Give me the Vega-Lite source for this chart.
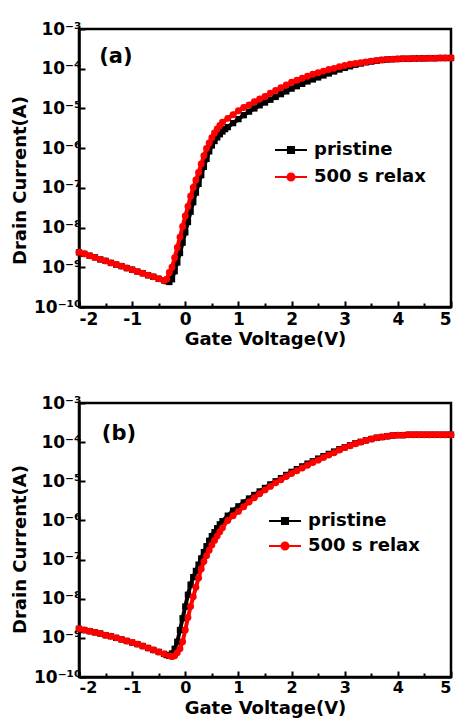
{
  "$schema": "https://vega.github.io/schema/vega-lite/v6.json",
  "background": "white",
  "padding": {"left": 10, "top": 18, "right": 5, "bottom": 5},
  "bounds": "flush",
  "spacing": 96,
  "config": {
    "view": {"stroke": "black", "strokeWidth": 2.5},
    "font": "DejaVu Sans",
    "axis": {
      "domainColor": "black", "domainWidth": 2.5, "grid": false,
      "tickColor": "black", "tickWidth": 2,
      "labelFont": "DejaVu Sans", "labelFontWeight": "bold", "labelFontSize": 17, "labelColor": "black",
      "titleFont": "DejaVu Sans", "titleFontWeight": "bold", "titleFontSize": 18, "titleColor": "black"
    },
    "legend": {
      "orient": "none", "title": null,
      "labelFont": "DejaVu Sans", "labelFontWeight": "bold", "labelFontSize": 18, "labelColor": "black",
      "symbolSize": 256, "labelOffset": 14, "rowPadding": 9, "symbolStrokeWidth": 2
    }
  },
  "datasets": {
    "a_pristine": [
      {"V":-2.0,"I":2.38e-9},{"V":-1.9,"I":2.17e-9},{"V":-1.8,"I":1.95e-9},{"V":-1.7,"I":1.78e-9},{"V":-1.6,"I":1.58e-9},{"V":-1.5,"I":1.45e-9},{"V":-1.4,"I":1.29e-9},{"V":-1.3,"I":1.17e-9},{"V":-1.2,"I":1.07e-9},{"V":-1.1,"I":9.55e-10},{"V":-1.0,"I":8.71e-10},{"V":-0.9,"I":7.76e-10},{"V":-0.8,"I":7.08e-10},{"V":-0.7,"I":6.31e-10},{"V":-0.6,"I":5.75e-10},{"V":-0.5,"I":5.13e-10},{"V":-0.4,"I":4.68e-10},{"V":-0.35,"I":4.47e-10},{"V":-0.3,"I":4.27e-10},{"V":-0.25,"I":5.01e-10},{"V":-0.2,"I":7.94e-10},{"V":-0.15,"I":1.32e-9},{"V":-0.1,"I":2.29e-9},{"V":-0.05,"I":4.17e-9},{"V":0.0,"I":7.59e-9},{"V":0.05,"I":1.38e-8},{"V":0.1,"I":2.51e-8},{"V":0.15,"I":4.37e-8},{"V":0.2,"I":7.59e-8},{"V":0.25,"I":1.26e-7},{"V":0.3,"I":2.09e-7},{"V":0.35,"I":3.39e-7},{"V":0.4,"I":5.37e-7},{"V":0.45,"I":8.32e-7},{"V":0.5,"I":1.17e-6},{"V":0.55,"I":1.51e-6},{"V":0.6,"I":1.86e-6},{"V":0.65,"I":2.24e-6},{"V":0.7,"I":2.63e-6},{"V":0.75,"I":3.02e-6},{"V":0.8,"I":3.39e-6},{"V":0.9,"I":4.27e-6},{"V":1.0,"I":5.37e-6},{"V":1.1,"I":6.76e-6},{"V":1.2,"I":8.32e-6},{"V":1.3,"I":1.0e-5},{"V":1.4,"I":1.2e-5},{"V":1.5,"I":1.41e-5},{"V":1.6,"I":1.66e-5},{"V":1.7,"I":1.95e-5},{"V":1.8,"I":2.29e-5},{"V":1.9,"I":2.69e-5},{"V":2.0,"I":3.16e-5},{"V":2.1,"I":3.63e-5},{"V":2.2,"I":4.17e-5},{"V":2.3,"I":4.79e-5},{"V":2.4,"I":5.37e-5},{"V":2.5,"I":6.03e-5},{"V":2.6,"I":6.76e-5},{"V":2.7,"I":7.59e-5},{"V":2.8,"I":8.51e-5},{"V":2.9,"I":9.55e-5},{"V":3.0,"I":1.05e-4},{"V":3.1,"I":1.15e-4},{"V":3.2,"I":1.26e-4},{"V":3.3,"I":1.35e-4},{"V":3.4,"I":1.45e-4},{"V":3.5,"I":1.51e-4},{"V":3.6,"I":1.58e-4},{"V":3.7,"I":1.66e-4},{"V":3.8,"I":1.7e-4},{"V":3.9,"I":1.74e-4},{"V":4.0,"I":1.76e-4},{"V":4.1,"I":1.78e-4},{"V":4.2,"I":1.78e-4},{"V":4.3,"I":1.8e-4},{"V":4.4,"I":1.82e-4},{"V":4.5,"I":1.82e-4},{"V":4.6,"I":1.84e-4},{"V":4.7,"I":1.84e-4},{"V":4.8,"I":1.86e-4},{"V":4.9,"I":1.86e-4},{"V":5.0,"I":1.86e-4}
    ],
    "a_relax": [
      {"V":-2.0,"I":2.4e-9},{"V":-1.9,"I":2.19e-9},{"V":-1.8,"I":1.95e-9},{"V":-1.7,"I":1.78e-9},{"V":-1.6,"I":1.58e-9},{"V":-1.5,"I":1.45e-9},{"V":-1.4,"I":1.29e-9},{"V":-1.3,"I":1.17e-9},{"V":-1.2,"I":1.07e-9},{"V":-1.1,"I":9.55e-10},{"V":-1.0,"I":8.71e-10},{"V":-0.9,"I":7.76e-10},{"V":-0.8,"I":7.08e-10},{"V":-0.7,"I":6.31e-10},{"V":-0.6,"I":5.75e-10},{"V":-0.5,"I":5.13e-10},{"V":-0.4,"I":4.68e-10},{"V":-0.35,"I":5.01e-10},{"V":-0.3,"I":7.41e-10},{"V":-0.25,"I":1.0e-9},{"V":-0.2,"I":1.74e-9},{"V":-0.15,"I":3.16e-9},{"V":-0.1,"I":5.75e-9},{"V":-0.05,"I":1.07e-8},{"V":0.0,"I":1.95e-8},{"V":0.05,"I":3.39e-8},{"V":0.1,"I":6.17e-8},{"V":0.15,"I":1.02e-7},{"V":0.2,"I":1.58e-7},{"V":0.25,"I":2.45e-7},{"V":0.3,"I":3.98e-7},{"V":0.35,"I":6.46e-7},{"V":0.4,"I":9.77e-7},{"V":0.45,"I":1.35e-6},{"V":0.5,"I":1.82e-6},{"V":0.55,"I":2.4e-6},{"V":0.6,"I":3.02e-6},{"V":0.65,"I":3.72e-6},{"V":0.7,"I":4.47e-6},{"V":0.8,"I":5.62e-6},{"V":0.9,"I":6.92e-6},{"V":1.0,"I":8.71e-6},{"V":1.1,"I":1.05e-5},{"V":1.2,"I":1.23e-5},{"V":1.3,"I":1.48e-5},{"V":1.4,"I":1.74e-5},{"V":1.5,"I":2.0e-5},{"V":1.6,"I":2.4e-5},{"V":1.7,"I":2.82e-5},{"V":1.8,"I":3.31e-5},{"V":1.9,"I":3.89e-5},{"V":2.0,"I":4.57e-5},{"V":2.1,"I":5.13e-5},{"V":2.2,"I":5.75e-5},{"V":2.3,"I":6.46e-5},{"V":2.4,"I":7.24e-5},{"V":2.5,"I":7.94e-5},{"V":2.6,"I":8.71e-5},{"V":2.7,"I":9.55e-5},{"V":2.8,"I":1.02e-4},{"V":2.9,"I":1.12e-4},{"V":3.0,"I":1.2e-4},{"V":3.1,"I":1.29e-4},{"V":3.2,"I":1.35e-4},{"V":3.3,"I":1.41e-4},{"V":3.4,"I":1.48e-4},{"V":3.5,"I":1.55e-4},{"V":3.6,"I":1.62e-4},{"V":3.7,"I":1.66e-4},{"V":3.8,"I":1.7e-4},{"V":3.9,"I":1.74e-4},{"V":4.0,"I":1.76e-4},{"V":4.1,"I":1.78e-4},{"V":4.2,"I":1.78e-4},{"V":4.3,"I":1.8e-4},{"V":4.4,"I":1.82e-4},{"V":4.5,"I":1.82e-4},{"V":4.6,"I":1.84e-4},{"V":4.7,"I":1.84e-4},{"V":4.8,"I":1.86e-4},{"V":4.9,"I":1.86e-4},{"V":5.0,"I":1.86e-4}
    ],
    "b_pristine": [
      {"V":-2.0,"I":1.7e-9},{"V":-1.9,"I":1.58e-9},{"V":-1.8,"I":1.48e-9},{"V":-1.7,"I":1.38e-9},{"V":-1.6,"I":1.29e-9},{"V":-1.5,"I":1.17e-9},{"V":-1.4,"I":1.1e-9},{"V":-1.3,"I":1.0e-9},{"V":-1.2,"I":9.12e-10},{"V":-1.1,"I":8.32e-10},{"V":-1.0,"I":7.59e-10},{"V":-0.9,"I":6.92e-10},{"V":-0.8,"I":6.17e-10},{"V":-0.7,"I":5.5e-10},{"V":-0.6,"I":4.9e-10},{"V":-0.5,"I":4.37e-10},{"V":-0.4,"I":3.89e-10},{"V":-0.35,"I":3.63e-10},{"V":-0.3,"I":3.47e-10},{"V":-0.25,"I":3.98e-10},{"V":-0.2,"I":5.25e-10},{"V":-0.15,"I":7.94e-10},{"V":-0.1,"I":1.58e-9},{"V":-0.05,"I":3.16e-9},{"V":0.0,"I":6.31e-9},{"V":0.05,"I":1.26e-8},{"V":0.1,"I":2.29e-8},{"V":0.15,"I":3.55e-8},{"V":0.2,"I":5.13e-8},{"V":0.25,"I":7.41e-8},{"V":0.3,"I":1.07e-7},{"V":0.35,"I":1.55e-7},{"V":0.4,"I":2.19e-7},{"V":0.45,"I":3.02e-7},{"V":0.5,"I":3.98e-7},{"V":0.55,"I":5.01e-7},{"V":0.6,"I":6.31e-7},{"V":0.65,"I":7.94e-7},{"V":0.7,"I":9.55e-7},{"V":0.8,"I":1.32e-6},{"V":0.9,"I":1.78e-6},{"V":1.0,"I":2.29e-6},{"V":1.1,"I":2.88e-6},{"V":1.2,"I":3.63e-6},{"V":1.3,"I":4.47e-6},{"V":1.4,"I":5.5e-6},{"V":1.5,"I":6.76e-6},{"V":1.6,"I":8.32e-6},{"V":1.7,"I":1.0e-5},{"V":1.8,"I":1.2e-5},{"V":1.9,"I":1.45e-5},{"V":2.0,"I":1.74e-5},{"V":2.1,"I":2.04e-5},{"V":2.2,"I":2.4e-5},{"V":2.3,"I":2.82e-5},{"V":2.4,"I":3.24e-5},{"V":2.5,"I":3.8e-5},{"V":2.6,"I":4.37e-5},{"V":2.7,"I":5.01e-5},{"V":2.8,"I":5.75e-5},{"V":2.9,"I":6.61e-5},{"V":3.0,"I":7.41e-5},{"V":3.1,"I":8.32e-5},{"V":3.2,"I":9.33e-5},{"V":3.3,"I":1.02e-4},{"V":3.4,"I":1.11e-4},{"V":3.5,"I":1.2e-4},{"V":3.6,"I":1.29e-4},{"V":3.7,"I":1.35e-4},{"V":3.8,"I":1.41e-4},{"V":3.9,"I":1.48e-4},{"V":4.0,"I":1.51e-4},{"V":4.1,"I":1.51e-4},{"V":4.2,"I":1.55e-4},{"V":4.3,"I":1.55e-4},{"V":4.4,"I":1.55e-4},{"V":4.5,"I":1.55e-4},{"V":4.6,"I":1.55e-4},{"V":4.7,"I":1.55e-4},{"V":4.8,"I":1.55e-4},{"V":4.9,"I":1.55e-4},{"V":5.0,"I":1.55e-4}
    ],
    "b_relax": [
      {"V":-2.0,"I":1.7e-9},{"V":-1.9,"I":1.58e-9},{"V":-1.8,"I":1.48e-9},{"V":-1.7,"I":1.38e-9},{"V":-1.6,"I":1.29e-9},{"V":-1.5,"I":1.17e-9},{"V":-1.4,"I":1.1e-9},{"V":-1.3,"I":1.0e-9},{"V":-1.2,"I":9.12e-10},{"V":-1.1,"I":8.32e-10},{"V":-1.0,"I":7.59e-10},{"V":-0.9,"I":6.92e-10},{"V":-0.8,"I":6.17e-10},{"V":-0.7,"I":5.5e-10},{"V":-0.6,"I":4.9e-10},{"V":-0.5,"I":4.37e-10},{"V":-0.4,"I":3.89e-10},{"V":-0.3,"I":3.47e-10},{"V":-0.25,"I":3.31e-10},{"V":-0.2,"I":3.47e-10},{"V":-0.15,"I":4.17e-10},{"V":-0.1,"I":5.25e-10},{"V":-0.05,"I":7.94e-10},{"V":0.0,"I":1.58e-9},{"V":0.05,"I":3.31e-9},{"V":0.1,"I":6.31e-9},{"V":0.15,"I":1.12e-8},{"V":0.2,"I":1.95e-8},{"V":0.25,"I":3.39e-8},{"V":0.3,"I":5.75e-8},{"V":0.35,"I":8.91e-8},{"V":0.4,"I":1.26e-7},{"V":0.45,"I":1.74e-7},{"V":0.5,"I":2.34e-7},{"V":0.55,"I":3.09e-7},{"V":0.6,"I":3.98e-7},{"V":0.65,"I":5.13e-7},{"V":0.7,"I":6.46e-7},{"V":0.8,"I":1.0e-6},{"V":0.9,"I":1.32e-6},{"V":1.0,"I":1.7e-6},{"V":1.1,"I":2.24e-6},{"V":1.2,"I":2.95e-6},{"V":1.3,"I":3.8e-6},{"V":1.4,"I":4.79e-6},{"V":1.5,"I":6.03e-6},{"V":1.6,"I":7.41e-6},{"V":1.7,"I":9.12e-6},{"V":1.8,"I":1.1e-5},{"V":1.9,"I":1.32e-5},{"V":2.0,"I":1.58e-5},{"V":2.1,"I":1.86e-5},{"V":2.2,"I":2.19e-5},{"V":2.3,"I":2.57e-5},{"V":2.4,"I":3.02e-5},{"V":2.5,"I":3.47e-5},{"V":2.6,"I":4.07e-5},{"V":2.7,"I":4.68e-5},{"V":2.8,"I":5.37e-5},{"V":2.9,"I":6.31e-5},{"V":3.0,"I":7.24e-5},{"V":3.1,"I":8.13e-5},{"V":3.2,"I":9.12e-5},{"V":3.3,"I":1.0e-4},{"V":3.4,"I":1.1e-4},{"V":3.5,"I":1.2e-4},{"V":3.6,"I":1.29e-4},{"V":3.7,"I":1.35e-4},{"V":3.8,"I":1.41e-4},{"V":3.9,"I":1.48e-4},{"V":4.0,"I":1.51e-4},{"V":4.1,"I":1.51e-4},{"V":4.2,"I":1.55e-4},{"V":4.3,"I":1.55e-4},{"V":4.4,"I":1.55e-4},{"V":4.5,"I":1.55e-4},{"V":4.6,"I":1.55e-4},{"V":4.7,"I":1.55e-4},{"V":4.8,"I":1.55e-4},{"V":4.9,"I":1.55e-4},{"V":5.0,"I":1.55e-4}
    ],
    "a_label": [{"V": -1.62, "I": 2.0e-4, "label": "(a)"}],
    "b_label": [{"V": -1.57, "I": 1.58e-4, "label": "(b)"}]
  },
  "resolve": {"scale": {"color": "independent", "x": "independent", "y": "independent"}, "legend": {"color": "independent"}},
  "vconcat": [
    {
      "width": 372, "height": 278,
      "encoding": {
        "x": {"field": "V", "type": "quantitative", "scale": {"domain": [-2, 5], "nice": false, "zero": false},
          "axis": {"title": "Gate Voltage(V)", "values": [-2,-1.5,-1,-0.5,0,0.5,1,1.5,2,2.5,3,3.5,4,4.5,5],
            "labelExpr": "datum.value % 1 == 0 ? toString(datum.value) : ''",
            "tickSize": {"condition": {"test": "datum.value % 1 == 0", "value": -6}, "value": -4},
            "labelPadding": 10, "titlePadding": 3}},
        "y": {"field": "I", "type": "quantitative", "scale": {"type": "log", "domain": [1e-10, 1e-3], "nice": false},
          "axis": {"title": "Drain Current(A)", "values": [1e-10,1e-9,1e-8,1e-7,1e-6,1e-5,1e-4,1e-3],
            "labelExpr": "'10' + replace(replace(replace(replace(replace(replace(replace(replace(replace(toString(round(log(datum.value)/LN10)),'-','⁻'),'10','¹⁰'),'3','³'),'4','⁴'),'5','⁵'),'6','⁶'),'7','⁷'),'8','⁸'),'9','⁹')",
            "tickSize": -6, "labelPadding": 4, "titlePadding": 4, "titleY": 151}}
      },
      "layer": [
        {
          "data": {"name": "a_pristine"},
          "mark": {"type": "line", "strokeWidth": 4, "point": {"filled": true, "size": 40, "shape": "square"}},
          "encoding": {"color": {"datum": "pristine", "scale": {"domain": ["pristine", "500 s relax"], "range": ["black", "#ff0000"]},
            "legend": {"legendX": 203, "legendY": 112,
              "encode": {"symbols": {"update": {
                "shape": {"signal": "datum.value === 'pristine' ? 'M-2,0L2,0M-0.38,-0.38L0.38,-0.38L0.38,0.38L-0.38,0.38Z' : 'M-2,0L2,0M-0.44,0A0.44,0.44,0,1,0,0.44,0A0.44,0.44,0,1,0,-0.44,0Z'"},
                "fill": {"signal": "datum.value === 'pristine' ? 'black' : '#ff0000'"},
                "stroke": {"signal": "datum.value === 'pristine' ? 'black' : '#ff0000'"},
                "strokeWidth": {"value": 2}, "opacity": {"value": 1}}}}}}}
        },
        {
          "data": {"name": "a_relax"},
          "mark": {"type": "line", "strokeWidth": 4, "point": {"filled": true, "size": 48, "shape": "circle"}},
          "encoding": {"color": {"datum": "500 s relax"}}
        },
        {
          "data": {"name": "a_label"},
          "mark": {"type": "text", "align": "left", "baseline": "middle", "font": "DejaVu Sans", "fontWeight": "bold", "fontSize": 21, "color": "black"},
          "encoding": {"text": {"field": "label"}}
        }
      ]
    },
    {
      "width": 372, "height": 274,
      "encoding": {
        "x": {"field": "V", "type": "quantitative", "scale": {"domain": [-2, 5], "nice": false, "zero": false},
          "axis": {"title": "Gate Voltage(V)", "values": [-2,-1.5,-1,-0.5,0,0.5,1,1.5,2,2.5,3,3.5,4,4.5,5],
            "labelExpr": "datum.value % 1 == 0 ? toString(datum.value) : ''",
            "tickSize": {"condition": {"test": "datum.value % 1 == 0", "value": -6}, "value": -4},
            "labelPadding": 8, "titlePadding": 4, "labelFontSize": 16}},
        "y": {"field": "I", "type": "quantitative", "scale": {"type": "log", "domain": [1e-10, 1e-3], "nice": false},
          "axis": {"title": "Drain Current(A)", "values": [1e-10,1e-9,1e-8,1e-7,1e-6,1e-5,1e-4,1e-3],
            "labelExpr": "'10' + replace(replace(replace(replace(replace(replace(replace(replace(replace(toString(round(log(datum.value)/LN10)),'-','⁻'),'10','¹⁰'),'3','³'),'4','⁴'),'5','⁵'),'6','⁶'),'7','⁷'),'8','⁸'),'9','⁹')",
            "tickSize": -6, "labelPadding": 4, "titlePadding": 4, "titleY": 146}}
      },
      "layer": [
        {
          "data": {"name": "b_pristine"},
          "mark": {"type": "line", "strokeWidth": 4, "point": {"filled": true, "size": 40, "shape": "square"}},
          "encoding": {"color": {"datum": "pristine", "scale": {"domain": ["pristine", "500 s relax"], "range": ["black", "#ff0000"]},
            "legend": {"legendX": 197, "legendY": 109, "rowPadding": 7,
              "encode": {"symbols": {"update": {
                "shape": {"signal": "datum.value === 'pristine' ? 'M-2,0L2,0M-0.38,-0.38L0.38,-0.38L0.38,0.38L-0.38,0.38Z' : 'M-2,0L2,0M-0.44,0A0.44,0.44,0,1,0,0.44,0A0.44,0.44,0,1,0,-0.44,0Z'"},
                "fill": {"signal": "datum.value === 'pristine' ? 'black' : '#ff0000'"},
                "stroke": {"signal": "datum.value === 'pristine' ? 'black' : '#ff0000'"},
                "strokeWidth": {"value": 2}, "opacity": {"value": 1}}}}}}}
        },
        {
          "data": {"name": "b_relax"},
          "mark": {"type": "line", "strokeWidth": 4, "point": {"filled": true, "size": 48, "shape": "circle"}},
          "encoding": {"color": {"datum": "500 s relax"}}
        },
        {
          "data": {"name": "b_label"},
          "mark": {"type": "text", "align": "left", "baseline": "middle", "font": "DejaVu Sans", "fontWeight": "bold", "fontSize": 21, "color": "black"},
          "encoding": {"text": {"field": "label"}}
        }
      ]
    }
  ]
}
